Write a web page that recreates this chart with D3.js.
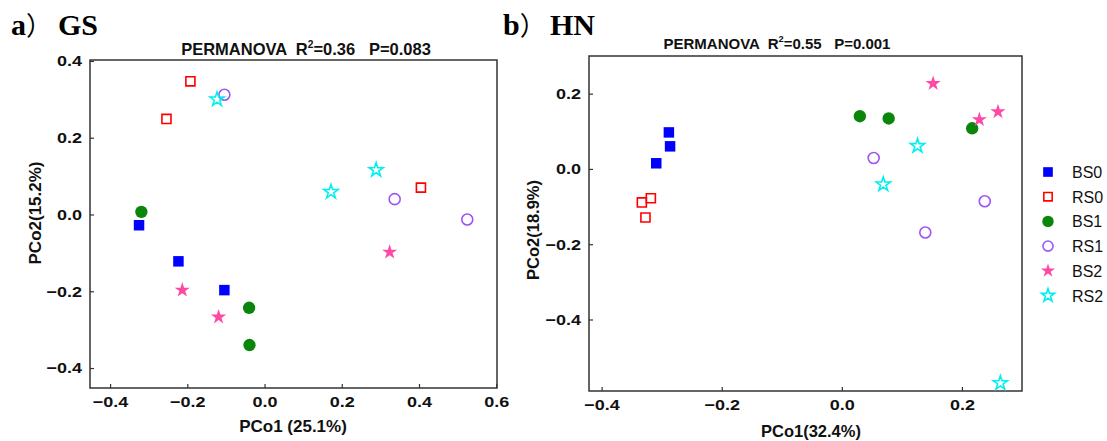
<!DOCTYPE html>
<html>
<head>
<meta charset="utf-8">
<script src="https://cdn.jsdelivr.net/npm/d3@7"></script>
<style>
  body { margin: 0; background: #fff; }
  text { font-family: "Liberation Sans", Arial, sans-serif; white-space: pre; }
</style>
</head>
<body>
<script>
// groups in legend order
var groups = ["BS0", "RS0", "BS1", "RS1", "BS2", "RS2"];

// panel a (GS) scores: [PCo1, PCo2]
var gsBS0 = [[-0.325, -0.028], [-0.223, -0.122], [-0.104, -0.197]];
var gsRS0 = [[-0.192, 0.347], [-0.254, 0.249], [0.405, 0.070]];
var gsBS1 = [[-0.319, 0.007], [-0.040, -0.243], [-0.039, -0.340]];
var gsRS1 = [[-0.104, 0.312], [0.337, 0.040], [0.525, -0.013]];
var gsBS2 = [[-0.213, -0.197], [-0.119, -0.267], [0.324, -0.098]];
var gsRS2 = [[-0.123, 0.300], [0.289, 0.116], [0.172, 0.059]];

// panel b (HN) scores
var hnBS0 = [[-0.288, 0.097], [-0.286, 0.060], [-0.309, 0.015]];
var hnRS0 = [[-0.318, -0.078], [-0.333, -0.089], [-0.327, -0.129]];
var hnBS1 = [[0.030, 0.140], [0.078, 0.134], [0.217, 0.108]];
var hnRS1 = [[0.053, 0.029], [0.139, -0.169], [0.238, -0.086]];
var hnBS2 = [[0.152, 0.227], [0.229, 0.131], [0.260, 0.152]];
var hnRS2 = [[0.126, 0.061], [0.069, -0.041], [0.264, -0.569]];

var gsXTicks = [-0.4, -0.2, 0.0, 0.2, 0.4, 0.6];
var gsYTicks = [-0.4, -0.2, 0.0, 0.2, 0.4];
var hnXTicks = [-0.4, -0.2, 0.0, 0.2];
var hnYTicks = [-0.4, -0.2, 0.0, 0.2];

var style = {
  BS0: {shape: d3.symbolSquare, size: 110, fill: "#0000ff", stroke: "none"},
  RS0: {shape: d3.symbolSquare, size: 82, fill: "none", stroke: "#ff0000"},
  BS1: {shape: d3.symbolCircle, size: 120, fill: "#0a860a", stroke: "none"},
  RS1: {shape: d3.symbolCircle, size: 95, fill: "none", stroke: "#9d55f5"},
  BS2: {shape: d3.symbolStar, size: 72, fill: "#ff4aa5", stroke: "none"},
  RS2: {shape: d3.symbolStar, size: 62, fill: "none", stroke: "#00f0f0"}
};

var W = 1107, H = 441;
var svg = d3.select("body").append("svg")
  .attr("width", W).attr("height", H);

function tickText(d) {
  return d3.format(".1f")(d).replace("-", "\u2212");
}

// tick labels in the source are a wide bold face; stretch a little
function styleAxis(a, left) {
  a.select(".domain").remove();
  a.selectAll("line").attr("stroke", "#333").attr("stroke-width", 1.2);
  a.selectAll("text")
    .style("font-size", "15px").style("font-weight", "bold")
    .style("font-family", "'Liberation Sans', Arial, sans-serif")
    .attr("fill", "#111")
    .attr("x", left ? -8 / 1.2 : 0)
    .attr("transform", "scale(1.2,1)");
}

function drawPanel(p) {
  var x = d3.scaleLinear().domain(p.xDom).range([p.left, p.right]);
  var y = d3.scaleLinear().domain(p.yDom).range([p.bottom, p.top]);
  var g = svg.append("g");

  // ticks (inward) + labels
  g.append("g")
    .attr("transform", "translate(0," + p.bottom + ")")
    .call(d3.axisBottom(x).tickValues(p.xTicks).tickSizeInner(-4).tickSizeOuter(0)
      .tickPadding(8).tickFormat(tickText))
    .call(styleAxis, false);
  g.append("g")
    .attr("transform", "translate(" + p.left + ",0)")
    .call(d3.axisLeft(y).tickValues(p.yTicks).tickSizeInner(-4).tickSizeOuter(0)
      .tickPadding(8).tickFormat(tickText))
    .call(styleAxis, true);

  // frame
  g.append("rect")
    .attr("x", p.left).attr("y", p.top)
    .attr("width", p.right - p.left).attr("height", p.bottom - p.top)
    .attr("fill", "none").attr("stroke", "#333").attr("stroke-width", 1.5);

  // points
  groups.forEach(function(k) {
    var s = style[k];
    g.selectAll(null).data(p.data[k]).enter().append("path")
      .attr("d", d3.symbol().type(s.shape).size(s.size))
      .attr("transform", function(d) { return "translate(" + x(d[0]) + "," + y(d[1]) + ")"; })
      .attr("fill", s.fill).attr("stroke", s.stroke).attr("stroke-width", 1.6);
  });

  // panel title
  var t = g.append("text").attr("x", p.tagX).attr("y", 35)
    .attr("font-size", 30).attr("font-weight", "bold")
    .style("font-family", "'Liberation Serif', 'Times New Roman', serif");
  t.append("tspan").text(p.tag);
  t.append("tspan").attr("font-size", 26).attr("font-weight", "normal")
    .style("font-family", "'Noto Sans CJK SC', sans-serif").text("\uFF09");
  t.append("tspan").attr("x", p.siteX).text(p.site);

  // PERMANOVA line
  var s = g.append("text").attr("x", p.subX).attr("y", p.subY)
    .attr("text-anchor", "middle").attr("font-size", p.subSize).attr("font-weight", "bold").attr("fill", "#111");
  s.append("tspan").text("PERMANOVA  R");
  s.append("tspan").attr("font-size", p.subSize * 0.62).attr("dy", -7).text("2");
  s.append("tspan").attr("dy", 7).text("=" + p.r2 + "   P=" + p.pv);

  // axis titles
  g.append("text").attr("x", p.xLabX).attr("y", p.xLabY)
    .attr("text-anchor", "middle").attr("font-size", p.labSize).attr("font-weight", "bold")
    .attr("fill", "#111").text(p.xLab);
  g.append("text")
    .attr("transform", "translate(" + p.yLabX + "," + p.yLabY + ") rotate(-90)")
    .attr("text-anchor", "middle").attr("font-size", p.labSize).attr("font-weight", "bold")
    .attr("fill", "#111").text(p.yLab);
}

drawPanel({
  left: 90, right: 497, top: 60, bottom: 388,
  xDom: [-0.452, 0.602], yDom: [-0.452, 0.4025],
  xTicks: gsXTicks, yTicks: gsYTicks,
  data: {BS0: gsBS0, RS0: gsRS0, BS1: gsBS1, RS1: gsRS1, BS2: gsBS2, RS2: gsRS2},
  tag: "a", tagX: 11, site: "GS", siteX: 58,
  subX: 306, subY: 55, subSize: 16.5, r2: "0.36", pv: "0.083",
  labSize: 17,
  xLab: "PCo1 (25.1%)", xLabX: 293, xLabY: 432,
  yLab: "PCo2(15.2%)", yLabX: 41, yLabY: 213
});

drawPanel({
  left: 589, right: 1022, top: 56, bottom: 391,
  xDom: [-0.421, 0.300], yDom: [-0.590, 0.300],
  xTicks: hnXTicks, yTicks: hnYTicks,
  data: {BS0: hnBS0, RS0: hnRS0, BS1: hnBS1, RS1: hnRS1, BS2: hnBS2, RS2: hnRS2},
  tag: "b", tagX: 503, site: "HN", siteX: 550,
  subX: 777, subY: 49, subSize: 15, r2: "0.55", pv: "0.001",
  labSize: 16.5,
  xLab: "PCo1(32.4%)", xLabX: 811, xLabY: 437,
  yLab: "PCo2(18.9%)", yLabX: 539, yLabY: 230
});

// legend
var leg = svg.append("g").attr("transform", "translate(1048,172)");
groups.forEach(function(k, i) {
  var s = style[k];
  var row = leg.append("g").attr("transform", "translate(0," + (i * 24.7) + ")");
  row.append("path")
    .attr("d", d3.symbol().type(s.shape).size(s.size * 0.85))
    .attr("fill", s.fill).attr("stroke", s.stroke).attr("stroke-width", 1.6);
  row.append("text").attr("x", 24).attr("y", 6)
    .attr("font-size", 16).attr("fill", "#111").text(k);
});
</script>
</body>
</html>
